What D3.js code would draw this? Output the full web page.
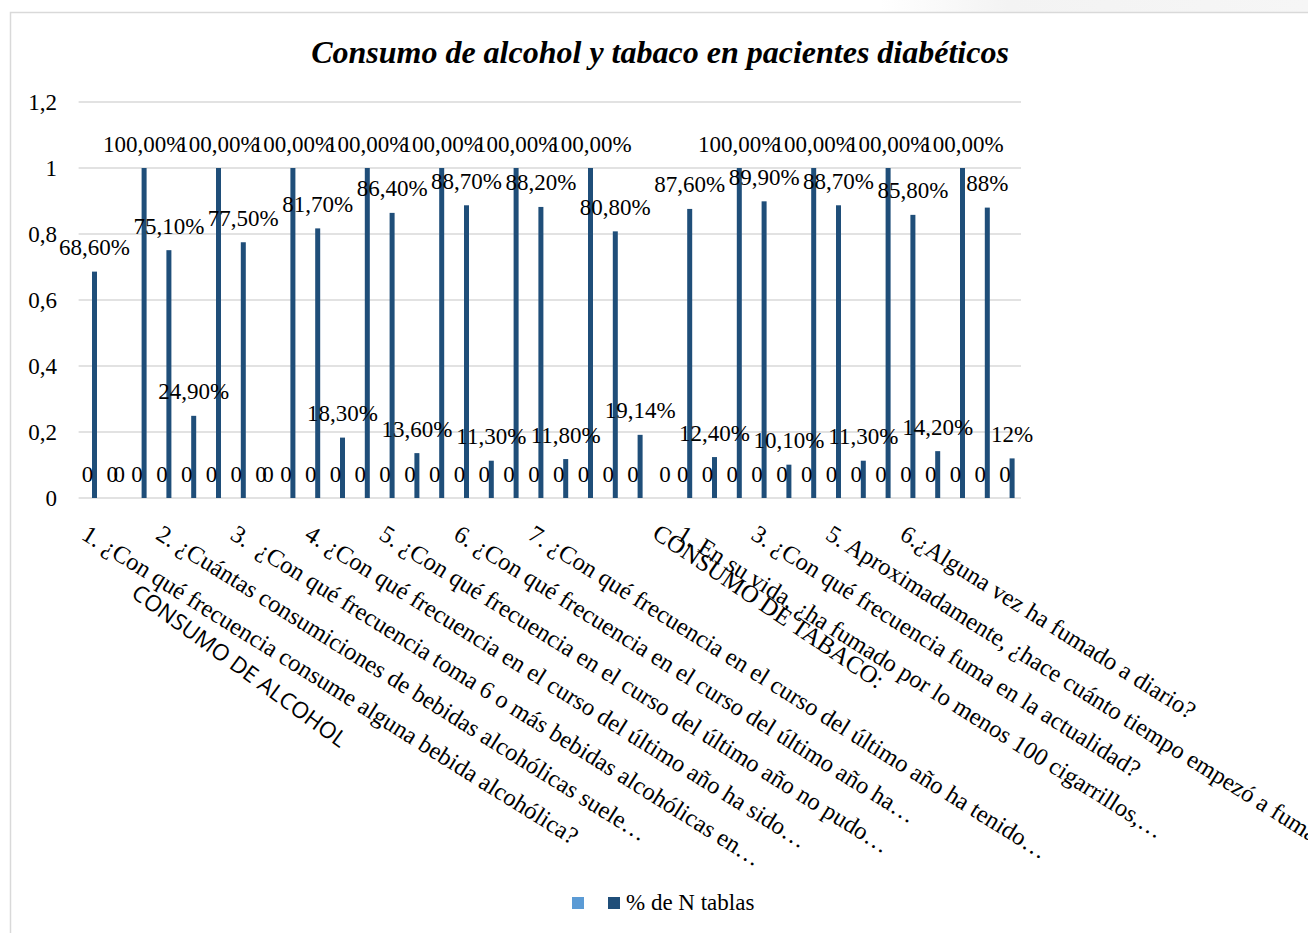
<!DOCTYPE html>
<html>
<head>
<meta charset="utf-8">
<script src="https://cdn.jsdelivr.net/npm/d3@7"></script>
<style>
  body { margin: 0; background: #fff; }
  svg { display: block; }
  text { white-space: pre; }
</style>
</head>
<body>
<svg id="chart" width="1308" height="933"></svg>
<script>
// ---- data -------------------------------------------------------------
const chartTitle = "Consumo de alcohol y tabaco en pacientes diabéticos";
const seriesNames = ["", "% de N tablas"];

// one row per answer line of the table (38 rows)
const rowCount = 38;

// first series: empty name, all zero (row 23 has no value)
const seriesEmpty = [0, 0, 0, 0, 0, 0, 0, 0, 0, 0, 0, 0, 0, 0, 0, 0, 0, 0, 0, 0,
                     0, 0, 0, null, 0, 0, 0, 0, 0, 0, 0, 0, 0, 0, 0, 0, 0, 0];

// second series: % de N tablas
const seriesPct = [0.686, 0, 1, 0.751, 0.249, 1, 0.775, 0, 1, 0.817,
                   0.183, 1, 0.864, 0.136, 1, 0.887, 0.113, 1, 0.882, 0.118,
                   1, 0.808, 0.1914, 0, 0.876, 0.124, 1, 0.899, 0.101, 1,
                   0.887, 0.113, 1, 0.858, 0.142, 1, 0.88, 0.12];

// rows whose percentage is shown without decimals
const wholePercentRows = [36, 37];

// question labels (inner level of the category axis) and the row they sit on
const questionRows = [0, 3, 6, 9, 12, 15, 18, 24, 27, 30, 33];
const questionTexts = [
  "1. ¿Con qué frecuencia consume alguna bebida alcohólica?",
  "2. ¿Cuántas consumiciones de bebidas alcohólicas suele…",
  "3.  ¿Con qué frecuencia toma 6 o más bebidas alcohólicas en…",
  "4. ¿Con qué frecuencia en el curso del último año ha sido…",
  "5. ¿Con qué frecuencia en el curso del último año no pudo…",
  "6. ¿Con qué frecuencia en el curso del último año ha…",
  "7. ¿Con qué frecuencia en el curso del último año ha tenido…",
  "1. En su vida, ¿ha fumado por lo menos 100 cigarrillos,…",
  "3. ¿Con qué frecuencia fuma en la actualidad?",
  "5. Aproximadamente, ¿hace cuánto tiempo empezó a fumar?",
  "6.¿Alguna vez ha fumado a diario?"
];

// section labels (outer level of the category axis)
const sectionRows = [2, 23];
const sectionTexts = ["CONSUMO DE ALCOHOL", "CONSUMO DE TABACO:"];

const yTicks = [0, 0.2, 0.4, 0.6, 0.8, 1, 1.2];

// ---- setup ------------------------------------------------------------
const W = 1308, H = 933;
const plot = { left: 78.6, right: 1021, top: 102, bottom: 498 };
const serif = "'Liberation Serif', 'Times New Roman', serif";
const sans = "'Open Sans', 'Noto Sans', sans-serif";
const colorLight = "#5B9BD5";
const colorDark = "#1F4E79";
const gridColor = "#d9d9d9";

const es = d3.formatLocale({ decimal: ",", thousands: ".", grouping: [3], currency: ["", " €"] });
const fmtPct2 = es.format(".2%");
const fmtPct0 = es.format(".0%");
const fmtTick = es.format(".1~f");

const svg = d3.select("#chart");

// faint shading above the chart frame on the right
const defs = svg.append("defs");
const grad = defs.append("linearGradient").attr("id", "topShade")
  .attr("x1", 0).attr("x2", 1).attr("y1", 0).attr("y2", 0);
grad.append("stop").attr("offset", "0%").attr("stop-color", "#ffffff");
grad.append("stop").attr("offset", "30%").attr("stop-color", "#f3f3f3");
grad.append("stop").attr("offset", "100%").attr("stop-color", "#f6f6f6");
svg.append("rect").attr("x", 880).attr("y", 0).attr("width", W - 880).attr("height", 12)
  .attr("fill", "url(#topShade)");

// chart frame
svg.append("rect").attr("x", 10.5).attr("y", 12.5).attr("width", 1400).attr("height", 1000)
  .attr("fill", "#fff").attr("stroke", gridColor).attr("stroke-width", 1.5);

// title
svg.append("text")
  .attr("x", 660).attr("y", 63)
  .attr("text-anchor", "middle")
  .style("font-family", serif).style("font-size", "32px")
  .style("font-weight", "bold").style("font-style", "italic")
  .attr("fill", "#000")
  .text(chartTitle);

// scales
const x = d3.scaleBand().domain(d3.range(rowCount)).range([plot.left, plot.right]).padding(0);
const seriesKeys = ["empty", "pct"];
const xSub = d3.scaleBand().domain(seriesKeys)
  .range([x.bandwidth() / 2 - 6, x.bandwidth() / 2 + 6])
  .paddingInner(2 / 7);
const y = d3.scaleLinear().domain([0, 1.2]).range([plot.bottom, plot.top]);

// gridlines
svg.append("g").selectAll("line").data(yTicks).join("line")
  .attr("x1", plot.left).attr("x2", plot.right)
  .attr("y1", d => y(d)).attr("y2", d => y(d))
  .attr("stroke", gridColor).attr("stroke-width", 1.5);

// y axis labels
svg.append("g").selectAll("text").data(yTicks).join("text")
  .attr("x", 57).attr("y", d => y(d))
  .attr("dy", "0.33em")
  .attr("text-anchor", "end")
  .style("font-family", serif).style("font-size", "23px")
  .attr("fill", "#000")
  .text(d => fmtTick(d));

// bars
const seriesData = [
  { key: "empty", values: seriesEmpty, color: colorLight },
  { key: "pct", values: seriesPct, color: colorDark }
];
const points = [];
seriesData.forEach(s => s.values.forEach((v, i) => {
  if (v !== null) points.push({ key: s.key, i, v, color: s.color });
}));

svg.append("g").selectAll("rect").data(points).join("rect")
  .attr("x", d => x(d.i) + xSub(d.key))
  .attr("width", xSub.bandwidth())
  .attr("y", d => y(d.v))
  .attr("height", d => y(0) - y(d.v))
  .attr("fill", d => d.color);

// data labels
function labelText(d) {
  if (d.v === 0) return "0";
  return wholePercentRows.includes(d.i) ? fmtPct0(d.v) : fmtPct2(d.v);
}
svg.append("g").selectAll("text").data(points).join("text")
  .attr("x", d => x(d.i) + xSub(d.key) + xSub.bandwidth() / 2)
  .attr("y", d => y(d.v) - 16.5)
  .attr("text-anchor", "middle")
  .style("font-family", serif).style("font-size", "23px")
  .attr("fill", "#000")
  .text(labelText);

// category axis: question labels (rotated)
const angle = 32;
const axisTop = 524;
svg.append("g").selectAll("text").data(questionRows).join("text")
  .attr("transform", (r) => `translate(${x(r) + x.bandwidth() / 2 - 2},${axisTop}) rotate(${angle})`)
  .attr("dy", "0.68em")
  .style("font-family", serif).style("font-size", "24.5px")
  .attr("fill", "#000")
  .text((r, k) => questionTexts[k]);

// category axis: section labels
const sectionTop = [583, 523];
svg.append("g").selectAll("text").data(sectionRows).join("text")
  .attr("transform", (r, k) => `translate(${x(r) + x.bandwidth() / 2 - 1},${sectionTop[k]}) rotate(${k === 0 ? 36 : 34})`)
  .attr("dy", (r, k) => k === 0 ? "0.72em" : "0.68em")
  .style("font-family", (r, k) => k === 0 ? sans : serif)
  .style("font-size", (r, k) => k === 0 ? "22.5px" : "24.5px")
  .attr("fill", "#000")
  .text((r, k) => sectionTexts[k]);

// legend
const legend = svg.append("g").attr("transform", "translate(572,897)");
const legendItems = [
  { name: seriesNames[0], color: colorLight, dx: 0 },
  { name: seriesNames[1], color: colorDark, dx: 36 }
];
legendItems.forEach(it => {
  legend.append("rect").attr("x", it.dx).attr("y", 0).attr("width", 12).attr("height", 12)
    .attr("fill", it.color);
  if (it.name) {
    legend.append("text").attr("x", it.dx + 18).attr("y", 12.5)
      .style("font-family", serif).style("font-size", "23px")
      .attr("fill", "#000").text(it.name);
  }
});
</script>
</body>
</html>
